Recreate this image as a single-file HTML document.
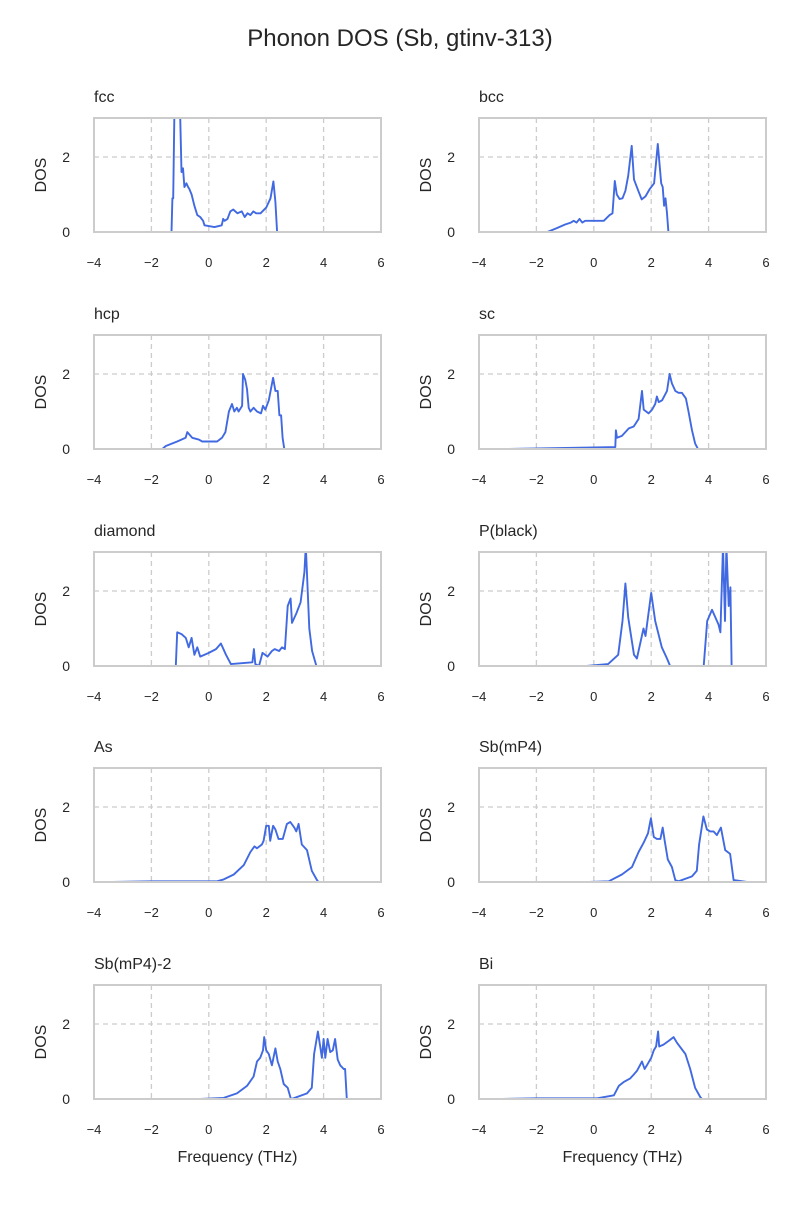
<!DOCTYPE html>
<html><head><meta charset="utf-8"><style>
body{margin:0;background:#fff;}
svg text{font-family:"Liberation Sans","DejaVu Sans",sans-serif;fill:#262626;}
</style></head><body>
<svg id="fig" width="800" height="1200" viewBox="0 0 800 1200" xmlns="http://www.w3.org/2000/svg">
<text x="400" y="46" text-anchor="middle" font-size="24">Phonon DOS (Sb, gtinv-313)</text>
</svg>
<script>
const panelNames = ["fcc","bcc","hcp","sc","diamond","P(black)","As","Sb(mP4)","Sb(mP4)-2","Bi"];
const xTicks = [-4,-2,0,2,4,6];
const yTicks = [0,2];
const fccData = [[-1.7,0],[-1.3,0],[-1.27,0.9],[-1.24,0.9],[-1.2,3.2],[-1.0,3.2],[-0.95,1.6],[-0.9,1.7],[-0.85,1.2],[-0.78,1.3],[-0.72,1.2],[-0.68,1.15],[-0.6,1.0],[-0.5,0.7],[-0.4,0.45],[-0.3,0.4],[-0.2,0.3],[-0.15,0.18],[0.2,0.13],[0.45,0.18],[0.5,0.35],[0.55,0.3],[0.65,0.35],[0.75,0.55],[0.85,0.6],[1.0,0.5],[1.15,0.55],[1.25,0.4],[1.35,0.5],[1.45,0.45],[1.55,0.55],[1.65,0.5],[1.8,0.5],[2.0,0.65],[2.15,0.9],[2.25,1.35],[2.32,0.8],[2.38,0],[2.7,0]];
const bccData = [[-2.0,0],[-1.62,0],[-1.3,0.1],[-1.0,0.2],[-0.8,0.25],[-0.7,0.3],[-0.6,0.25],[-0.5,0.35],[-0.4,0.25],[-0.3,0.3],[0.35,0.3],[0.55,0.45],[0.65,0.5],[0.73,1.36],[0.8,1.0],[0.9,0.88],[1.0,0.9],[1.1,1.1],[1.2,1.5],[1.32,2.3],[1.4,1.4],[1.55,1.1],[1.67,0.87],[1.8,0.95],[1.95,1.15],[2.1,1.3],[2.23,2.35],[2.35,1.3],[2.4,1.2],[2.45,0.7],[2.5,0.9],[2.55,0.5],[2.6,0],[2.9,0]];
const hcpData = [[-2.09,0],[-1.62,0],[-1.5,0.08],[-1.1,0.2],[-0.81,0.3],[-0.75,0.45],[-0.58,0.3],[-0.35,0.25],[-0.23,0.2],[0.29,0.2],[0.46,0.3],[0.58,0.45],[0.7,1.0],[0.81,1.2],[0.89,1.0],[0.98,1.1],[1.04,1.0],[1.16,1.15],[1.19,2.0],[1.27,1.85],[1.33,1.6],[1.39,1.1],[1.45,1.0],[1.56,1.1],[1.68,1.0],[1.82,0.95],[1.89,1.15],[1.97,1.05],[2.09,1.3],[2.24,1.9],[2.32,1.55],[2.4,1.55],[2.46,0.9],[2.52,0.9],[2.57,0.3],[2.63,0],[3.07,0]];
const scData = [[-2.95,0],[0.75,0.05],[0.77,0.5],[0.81,0.3],[0.98,0.35],[1.22,0.55],[1.39,0.6],[1.56,0.8],[1.68,1.55],[1.74,1.05],[1.91,0.95],[2.03,1.05],[2.14,1.2],[2.2,1.4],[2.26,1.25],[2.38,1.3],[2.55,1.55],[2.64,2.0],[2.72,1.75],[2.84,1.55],[2.95,1.5],[3.07,1.5],[3.21,1.35],[3.3,1.0],[3.42,0.5],[3.53,0.15],[3.63,0],[4.29,0]];
const diamondData = [[-2.0,0],[-1.15,0],[-1.1,0.9],[-0.95,0.85],[-0.8,0.75],[-0.7,0.5],[-0.6,0.75],[-0.5,0.3],[-0.4,0.5],[-0.3,0.25],[0.0,0.35],[0.25,0.45],[0.42,0.6],[0.6,0.3],[0.77,0.05],[1.52,0.1],[1.57,0.45],[1.62,0.05],[1.75,0],[1.87,0.35],[2.05,0.25],[2.2,0.4],[2.3,0.45],[2.45,0.4],[2.55,0.5],[2.65,0.45],[2.75,1.6],[2.85,1.8],[2.9,1.15],[3.05,1.4],[3.2,1.7],[3.33,2.5],[3.38,3.2],[3.5,1.0],[3.6,0.4],[3.75,0],[4.3,0]];
const pblackData = [[-0.25,0],[0.5,0.05],[0.85,0.3],[1.0,1.2],[1.1,2.2],[1.2,1.3],[1.28,0.9],[1.4,0.3],[1.5,0.2],[1.73,1.0],[1.8,0.8],[2.0,1.95],[2.14,1.2],[2.37,0.5],[2.55,0.2],[2.66,0],[3.83,0],[3.95,1.2],[4.12,1.5],[4.35,1.1],[4.41,0.9],[4.5,3.2],[4.57,1.2],[4.62,3.2],[4.7,1.6],[4.76,2.1],[4.8,0],[5.27,0]];
const asData = [[-3.36,0],[-2.0,0.02],[-0.05,0.02],[0.29,0.02],[0.52,0.07],[0.87,0.2],[1.22,0.45],[1.45,0.8],[1.59,0.95],[1.68,0.9],[1.85,1.0],[1.91,1.1],[2.0,1.5],[2.09,1.5],[2.14,1.1],[2.24,1.5],[2.32,1.4],[2.43,1.15],[2.58,1.15],[2.72,1.55],[2.84,1.6],[2.98,1.45],[3.05,1.35],[3.13,1.55],[3.24,1.0],[3.42,0.85],[3.59,0.3],[3.77,0.05],[3.82,0],[4.52,0]];
const sbmp4Data = [[-0.17,0],[0.52,0.02],[0.98,0.2],[1.33,0.4],[1.56,0.8],[1.74,1.05],[1.89,1.3],[1.99,1.7],[2.09,1.2],[2.2,1.15],[2.32,1.15],[2.4,1.45],[2.47,1.1],[2.58,0.6],[2.72,0.4],[2.84,0.05],[2.95,0.02],[3.42,0.15],[3.59,0.3],[3.67,1.0],[3.82,1.75],[3.94,1.4],[4.06,1.35],[4.17,1.35],[4.29,1.25],[4.43,1.45],[4.58,0.85],[4.75,0.75],[4.87,0.05],[5.33,0]];
const sbmp42Data = [[-0.29,0],[0.52,0.03],[0.98,0.15],[1.33,0.35],[1.56,0.6],[1.68,1.0],[1.79,1.1],[1.89,1.3],[1.93,1.65],[2.0,1.3],[2.09,1.2],[2.2,0.9],[2.32,1.35],[2.4,1.0],[2.49,0.8],[2.61,0.4],[2.75,0.3],[2.86,0],[2.95,0.02],[3.42,0.15],[3.59,0.3],[3.67,1.2],[3.8,1.8],[3.88,1.4],[3.94,1.1],[4.0,1.6],[4.06,1.1],[4.14,1.6],[4.23,1.25],[4.32,1.3],[4.4,1.6],[4.49,1.05],[4.58,0.9],[4.7,0.8],[4.75,0.8],[4.81,0],[5.33,0]];
const biData = [[-3.19,0],[-2.0,0.02],[0.12,0.02],[0.7,0.1],[0.87,0.35],[1.04,0.45],[1.27,0.55],[1.39,0.65],[1.5,0.75],[1.68,1.0],[1.77,0.8],[1.85,0.9],[2.0,1.1],[2.09,1.3],[2.17,1.4],[2.24,1.8],[2.28,1.4],[2.43,1.45],[2.61,1.55],[2.78,1.65],[2.9,1.5],[3.19,1.2],[3.36,0.8],[3.53,0.3],[3.71,0.05],[3.77,0],[4.4,0]];
const seriesList = [fccData,bccData,hcpData,scData,diamondData,pblackData,asData,sbmp4Data,sbmp42Data,biData];

const NS="http://www.w3.org/2000/svg";
const svg=document.getElementById('fig');
const colX=[94,479], W=287, rowY=[118,335,552,768,985], H=114;
const XMIN=-4,XMAX=6,YMIN=0,YMAX=3.04;
function mk(tag,attrs){const e=document.createElementNS(NS,tag);for(const k in attrs)e.setAttribute(k,attrs[k]);return e;}
function slug(s){return s.toLowerCase().replace(/[^a-z0-9]+/g,'-').replace(/^-|-$/g,'');}
panelNames.forEach((name,i)=>{
  const x0=colX[i%2], y0=rowY[Math.floor(i/2)];
  const sx=v=>x0+(v-XMIN)/(XMAX-XMIN)*W;
  const sy=v=>y0+H-(v-YMIN)/(YMAX-YMIN)*H;
  const g=mk('g',{});
  
  
  svg.appendChild(g);
  const clip=mk('clipPath',{id:'c'+i});clip.appendChild(mk('rect',{x:x0,y:y0,width:W,height:H}));g.appendChild(clip);
  xTicks.forEach(t=>{
    if(t>XMIN&&t<XMAX){const l=mk('line',{x1:sx(t),x2:sx(t),y1:y0,y2:y0+H,stroke:'#cccccc','stroke-width':1.3,'stroke-dasharray':'5,4'});
    g.appendChild(l);}
    const tx=mk('text',{x:sx(t),y:y0+H+35,'text-anchor':'middle','font-size':13});
    tx.textContent=(t<0?'\u2212'+(-t):String(t));
    g.appendChild(tx);
  });
  yTicks.forEach(t=>{
    if(t>YMIN){const l=mk('line',{x1:x0,x2:x0+W,y1:sy(t),y2:sy(t),stroke:'#cccccc','stroke-width':1.3,'stroke-dasharray':'5,4'});
    g.appendChild(l);}
    const tx=mk('text',{x:x0-24,y:sy(t)+5,'text-anchor':'end','font-size':14});
    tx.textContent=String(t);
    g.appendChild(tx);
  });
  const d=seriesList[i].map((p,j)=>(j?'L':'M')+sx(p[0]).toFixed(1)+','+sy(p[1]).toFixed(1)).join('');
  const path=mk('path',{d:d,fill:'none',stroke:'#4169e1','stroke-width':1.9,'stroke-linejoin':'round','clip-path':'url(#c'+i+')'});
  
  
  g.appendChild(path);
  const fr=mk('rect',{x:x0,y:y0,width:W,height:H,fill:'none',stroke:'#cccccc','stroke-width':2});
  g.appendChild(fr);
  const ti=mk('text',{x:x0,y:y0-16,'font-size':16});ti.textContent=name;
  g.appendChild(ti);
  const yl=mk('text',{x:0,y:0,'font-size':16,'text-anchor':'middle',transform:'translate('+(x0-48)+','+(y0+H/2)+') rotate(-90)'});yl.textContent='DOS';
  g.appendChild(yl);
  if(i>=8){const xl=mk('text',{x:x0+W/2,y:y0+H+63,'font-size':16,'text-anchor':'middle'});xl.textContent='Frequency (THz)';
  g.appendChild(xl);}
});
</script>
</body></html>
